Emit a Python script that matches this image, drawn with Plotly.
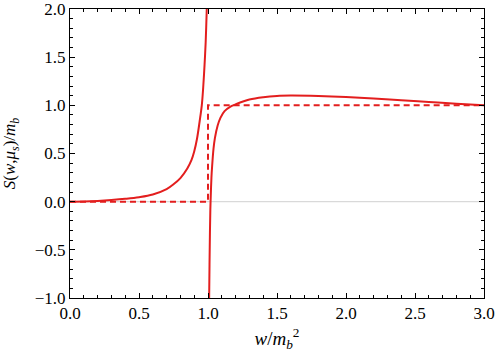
import plotly.graph_objects as go

# Left branch of S(w, mu_s)/m_b (w < m_b^2)
x_left = [0.0, 0.1, 0.2, 0.3, 0.4, 0.5, 0.6, 0.7, 0.75, 0.8, 0.85, 0.88, 0.9,
          0.92, 0.94, 0.955, 0.965, 0.975, 0.983, 0.99, 0.995]
y_left = [0.0, 0.002, 0.008, 0.017, 0.029, 0.046, 0.074, 0.13, 0.18, 0.245, 0.345,
          0.43, 0.52, 0.65, 0.84, 1.0, 1.18, 1.42, 1.65, 1.95, 2.2]

# Right branch (w > m_b^2)
x_right = [1.008, 1.011, 1.014, 1.017, 1.02, 1.025, 1.03, 1.04, 1.05, 1.07, 1.09,
           1.12, 1.16, 1.2, 1.3, 1.4, 1.5, 1.6, 1.8, 2.0, 2.2, 2.4, 2.6, 2.8, 3.0]
y_right = [-1.05, -0.65, -0.32, -0.08, 0.06, 0.25, 0.37, 0.55, 0.66, 0.79, 0.87,
           0.94, 0.985, 1.01, 1.06, 1.085, 1.098, 1.101, 1.097, 1.087, 1.072,
           1.053, 1.035, 1.017, 1.0]

# Tree-level step function
x_step = [0.0, 1.0, 1.0, 3.0]
y_step = [0.0, 0.0, 1.0, 1.0]

# Baseline
x_zero = [0.0, 3.0]
y_zero = [0.0, 0.0]

red = "#e31e1e"

fig = go.Figure()
fig.add_trace(go.Scatter(x=x_zero, y=y_zero, mode="lines",
                         line=dict(color="#d9d9d9", width=1.2), hoverinfo="skip"))
fig.add_trace(go.Scatter(x=x_step, y=y_step, mode="lines",
                         line=dict(color=red, width=2, dash="6px,4px")))
fig.add_trace(go.Scatter(x=x_left, y=y_left, mode="lines", line_shape="spline",
                         line=dict(color=red, width=2)))
fig.add_trace(go.Scatter(x=x_right, y=y_right, mode="lines", line_shape="spline",
                         line=dict(color=red, width=2)))

family = "Liberation Serif, Times New Roman, serif"
font = dict(family=family, size=17, color="black")
xtitle_font = dict(family=family, size=19, color="black")

axis_common = dict(
    showgrid=False, zeroline=False, showline=True, linecolor="black", linewidth=1,
    mirror="allticks", ticks="inside", ticklen=5, tickcolor="black", tickwidth=1,
    tickfont=font, automargin=False, ticklabeloverflow="allow",
    minor=dict(ticks="inside", ticklen=3, tickcolor="black", tickwidth=1),
)

fig.update_xaxes(range=[0, 3], dtick=0.5, tick0=0, tickformat=".1f",
                 minor_dtick=0.1, ticklabelstandoff=0,
                 title=dict(text="<i>w</i>/<i>m</i><sub><i>b</i></sub><sup>2</sup>",
                            font=xtitle_font, standoff=9),
                 **axis_common)
fig.update_yaxes(range=[-1, 2], dtick=0.5, tick0=0, tickformat=".1f",
                 minor_dtick=0.1,
                 title=dict(text="<i>S</i>(<i>w</i>,<i>μ</i><sub><i>s</i></sub>)/<i>m</i><sub><i>b</i></sub>",
                            font=font, standoff=16),
                 **axis_common)

fig.update_layout(
    width=498, height=356,
    margin=dict(l=70, r=14, t=9, b=58),
    plot_bgcolor="white", paper_bgcolor="white",
    showlegend=False, font=font,
)

fig.write_html("out.html", config={"displayModeBar": False},
               post_script="document.body.style.margin='0';document.body.style.overflow='hidden';")
